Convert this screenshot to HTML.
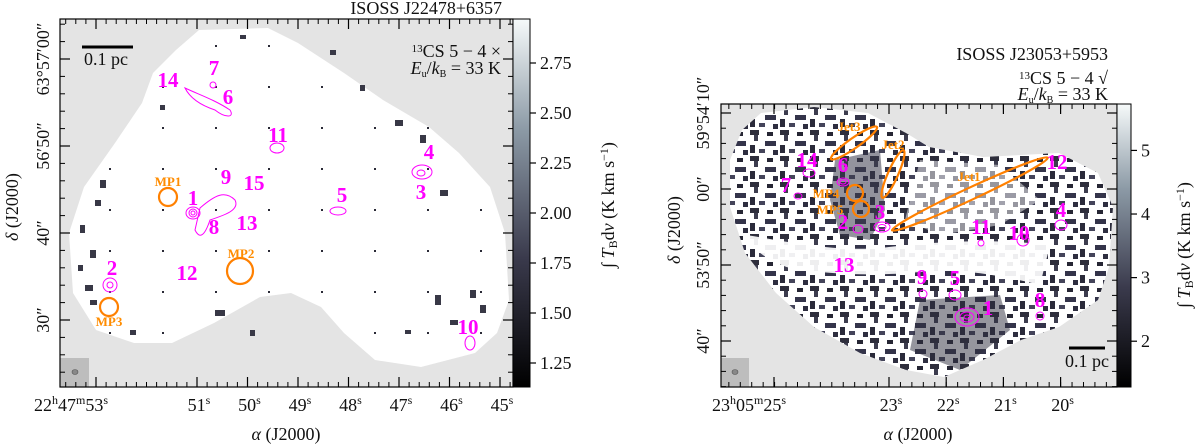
<!DOCTYPE html>
<html><head><meta charset="utf-8"><style>
html,body{margin:0;padding:0;background:#fff;width:1200px;height:448px;overflow:hidden}
svg{display:block}
text{font-family:"Liberation Serif",serif}
.tk{font-size:18px;fill:#111}
.mg{fill:#ff00ff;font-weight:bold;font-size:21px}
.or{fill:#ff8c00;font-size:13px;font-weight:bold}
</style></head><body>
<svg id="fig" width="1200" height="448" viewBox="0 0 1200 448" xmlns="http://www.w3.org/2000/svg">
<defs>
<linearGradient id="cb" x1="0" y1="1" x2="0" y2="0">
<stop offset="0" stop-color="#000"/><stop offset="0.35" stop-color="#3a3a4c"/><stop offset="0.7" stop-color="#8c9aa6"/><stop offset="1" stop-color="#f6fafa"/></linearGradient>
<pattern id="noiseR" width="30" height="26" patternUnits="userSpaceOnUse">
<rect width="30" height="26" fill="#fff"/>
<rect x="0" y="0" width="9" height="5" fill="#2e2e3c"/><rect x="4" y="5" width="4" height="6" fill="#3c3c4e"/>
<rect x="17" y="2" width="6" height="4" fill="#262634"/><rect x="15" y="11" width="11" height="5" fill="#34344a"/>
<rect x="0" y="15" width="5" height="8" fill="#2a2a3a"/><rect x="9" y="19" width="6" height="4" fill="#44445a"/>
<rect x="23" y="20" width="5" height="5" fill="#2e2e40"/>
</pattern>
<pattern id="noiseL" width="53" height="41" patternUnits="userSpaceOnUse">
<rect width="53" height="41" fill="#fff"/>
<rect x="3" y="4" width="2" height="2" fill="#2a2a36"/>
</pattern>
<clipPath id="clipL"><rect x="60" y="19" width="453" height="368"/></clipPath>
<clipPath id="clipR"><rect x="721" y="104" width="396" height="283"/></clipPath>
</defs>

<!-- LEFT PANEL -->
<g clip-path="url(#clipL)">
<rect x="60" y="19" width="453" height="368" fill="#e4e4e4"/>
<polygon fill="url(#noiseL)" points="199,30 268,28 298,43 344,73 383,100 429,127 459,153 490,187 505,233 509,300 497,333 475,353 421,367 375,360 344,333 321,307 291,293 260,297 214,323 172,343 134,343 96,330 73,293 69,233 84,187 115,143 142,103 153,73 176,50"/>
<g fill="#383846">
<rect x="395" y="120" width="8" height="6"/><rect x="420" y="135" width="6" height="8"/><rect x="440" y="190" width="8" height="6"/><rect x="435" y="295" width="6" height="10"/><rect x="480" y="305" width="6" height="8"/><rect x="90" y="250" width="6" height="8"/><rect x="95" y="200" width="6" height="6"/><rect x="85" y="285" width="8" height="6"/><rect x="215" y="310" width="10" height="6"/><rect x="405" y="330" width="6" height="4"/><rect x="160" y="105" width="5" height="5"/><rect x="80" y="225" width="5" height="8"/>
<rect x="100" y="180" width="6" height="8"/><rect x="78" y="265" width="5" height="6"/><rect x="90" y="300" width="7" height="5"/><rect x="130" y="330" width="6" height="5"/><rect x="450" y="320" width="8" height="5"/><rect x="470" y="290" width="6" height="8"/><rect x="330" y="50" width="6" height="5"/><rect x="360" y="85" width="5" height="6"/><rect x="240" y="35" width="6" height="4"/><rect x="250" y="330" width="5" height="6"/>
</g>
<g fill="none" stroke="#ff00ff" stroke-width="1">
<ellipse cx="193" cy="213" rx="7" ry="6"/><ellipse cx="193" cy="213" rx="4" ry="4"/><ellipse cx="193" cy="213" rx="2" ry="2"/>
<path d="M200,208 C215,195 225,190 235,200 C240,210 225,215 210,220 C205,235 200,240 195,230Z"/>
<path d="M185,88 C200,95 215,100 230,110 C235,118 225,118 215,110 C200,105 190,98 185,88Z"/>
<ellipse cx="213" cy="85" rx="3" ry="3"/><ellipse cx="338" cy="211" rx="8" ry="4"/>
<ellipse cx="422" cy="172" rx="10" ry="7"/><ellipse cx="421" cy="173" rx="4" ry="3"/>
<ellipse cx="110" cy="285" rx="7" ry="7"/><ellipse cx="110" cy="285" rx="3" ry="3"/>
<ellipse cx="277" cy="148" rx="7" ry="5"/><ellipse cx="470" cy="343" rx="5" ry="7"/>
</g>
<rect x="60" y="358" width="29" height="29" fill="#bdbdbd"/>
<ellipse cx="75" cy="372" rx="3" ry="2.5" fill="#888" stroke="#555" stroke-width="0.6"/>
</g>
<rect x="60" y="19" width="453" height="368" fill="none" stroke="#000" stroke-width="1.2"/>
<line x1="82" y1="47" x2="133" y2="47" stroke="#000" stroke-width="3"/>
<text x="84" y="65" class="tk" font-size="17">0.1 pc</text>
<text x="501" y="57" class="tk" text-anchor="end" font-size="15"><tspan font-size="11" dy="-5">13</tspan><tspan dy="5">CS 5 − 4 ×</tspan></text>
<text x="501" y="74" class="tk" text-anchor="end" font-size="15"><tspan font-style="italic">E</tspan><tspan font-size="10" dy="3">u</tspan><tspan dy="-3">/</tspan><tspan font-style="italic">k</tspan><tspan font-size="10" dy="3">B</tspan><tspan dy="-3"> = 33 K</tspan></text>
<text x="502" y="14" class="tk" text-anchor="end" font-size="14">ISOSS J22478+6357</text>
<rect x="513" y="19" width="17" height="368" fill="url(#cb)" stroke="#000" stroke-width="1"/>
<g id="leftCbTicks"></g>
<text transform="translate(614,205) rotate(-90)" class="tk" text-anchor="middle" font-size="18">∫ <tspan font-style="italic">T</tspan><tspan font-size="12" dy="3">B</tspan><tspan dy="-3">d</tspan><tspan font-style="italic">v</tspan> (K km s<tspan font-size="12" dy="-6">−1</tspan><tspan dy="6">)</tspan></text>
<g id="leftXTicks"></g><g id="leftYTicks"></g>
<text x="286" y="440" class="tk" text-anchor="middle"><tspan font-style="italic">α</tspan> (J2000)</text>
<text transform="translate(18,207) rotate(-90)" class="tk" text-anchor="middle"><tspan font-style="italic">δ</tspan> (J2000)</text>
<g id="leftLabels"></g>
<g fill="none" stroke="#ff8000" stroke-width="2.2">
<circle cx="168" cy="197" r="9"/>
<circle cx="240" cy="271" r="13"/>
<circle cx="109" cy="307" r="9"/>
</g>
<text x="168" y="186" class="or" text-anchor="middle">MP1</text>
<text x="241" y="258" class="or" text-anchor="middle">MP2</text>
<text x="109" y="326" class="or" text-anchor="middle">MP3</text>

<!-- RIGHT PANEL -->
<g clip-path="url(#clipR)">
<rect x="721" y="104" width="396" height="283" fill="#e4e4e4"/>
<polygon fill="url(#noiseR)" points="761,113 814,107 868,113 906,133 929,147 983,157 1059,153 1098,173 1113,207 1109,267 1098,300 1059,327 1021,340 983,360 944,377 906,370 860,353 814,327 776,293 745,253 730,207 730,160 742,130"/>
<path d="M746,235 C780,240 830,252 880,248 C930,242 990,238 1050,245 L1040,285 C1000,275 960,268 920,272 C880,276 830,275 790,268 C770,262 752,250 746,235Z" fill="#fff" opacity="0.92"/>
<path d="M920,160 L1000,165 L1040,200 L1000,225 L940,235 L905,220Z" fill="#fff" opacity="0.5"/>
<path d="M835,160 L880,150 L885,210 L870,240 L840,235 L830,200Z" fill="#3a3a4c" opacity="0.55"/>
<path d="M920,300 L1000,295 L1010,330 L960,370 L910,350Z" fill="#2e2e3e" opacity="0.5"/>
<g fill="none" stroke="#ff00ff" stroke-width="1">
<ellipse cx="843" cy="182" rx="6" ry="4"/><ellipse cx="843" cy="182" rx="3" ry="2"/>
<ellipse cx="882" cy="227" rx="8" ry="5"/><ellipse cx="882" cy="227" rx="4" ry="2.5"/>
<ellipse cx="858" cy="229" rx="5" ry="4"/>
<ellipse cx="967" cy="317" rx="12" ry="9"/><ellipse cx="967" cy="317" rx="7" ry="5"/><ellipse cx="967" cy="317" rx="3" ry="2"/>
<ellipse cx="955" cy="295" rx="6" ry="5"/><ellipse cx="923" cy="294" rx="4" ry="4"/>
<ellipse cx="1061" cy="225" rx="6" ry="5"/><ellipse cx="1040" cy="316" rx="4" ry="4"/>
<ellipse cx="981" cy="243" rx="3" ry="3"/><ellipse cx="1023" cy="240" rx="6" ry="6"/>
<ellipse cx="798" cy="196" rx="4" ry="3"/><ellipse cx="809" cy="173" rx="6" ry="4"/>
</g>
<rect x="721" y="358" width="28" height="29" fill="#bdbdbd"/>
<ellipse cx="735" cy="372" rx="3" ry="2.5" fill="#888" stroke="#555" stroke-width="0.6"/>
</g>
<rect x="721" y="104" width="396" height="283" fill="none" stroke="#000" stroke-width="1.2"/>
<line x1="1069" y1="348" x2="1105" y2="348" stroke="#000" stroke-width="3"/>
<text x="1087" y="367" class="tk" text-anchor="middle" font-size="17">0.1 pc</text>
<text x="1108" y="60" class="tk" text-anchor="end" font-size="14">ISOSS J23053+5953</text>
<text x="1108" y="84" class="tk" text-anchor="end" font-size="15"><tspan font-size="11" dy="-5">13</tspan><tspan dy="5">CS 5 − 4 √</tspan></text>
<text x="1108" y="100" class="tk" text-anchor="end" font-size="15"><tspan font-style="italic">E</tspan><tspan font-size="10" dy="3">u</tspan><tspan dy="-3">/</tspan><tspan font-style="italic">k</tspan><tspan font-size="10" dy="3">B</tspan><tspan dy="-3"> = 33 K</tspan></text>
<rect x="1117" y="104" width="14" height="283" fill="url(#cb)" stroke="#000" stroke-width="1"/>
<g id="rightCbTicks"></g>
<text transform="translate(1190,245) rotate(-90)" class="tk" text-anchor="middle" font-size="18">∫ <tspan font-style="italic">T</tspan><tspan font-size="12" dy="3">B</tspan><tspan dy="-3">d</tspan><tspan font-style="italic">v</tspan> (K km s<tspan font-size="12" dy="-6">−1</tspan><tspan dy="6">)</tspan></text>
<g id="rightXTicks"></g><g id="rightYTicks"></g>
<text x="918" y="440" class="tk" text-anchor="middle"><tspan font-style="italic">α</tspan> (J2000)</text>
<text transform="translate(680,230) rotate(-90)" class="tk" text-anchor="middle"><tspan font-style="italic">δ</tspan> (J2000)</text>
<g fill="none" stroke="#ff8000" stroke-width="2.2">
<ellipse cx="854" cy="143" rx="28" ry="5" transform="rotate(-35 854 143)"/>
<ellipse cx="893" cy="174" rx="26" ry="5" transform="rotate(-66 893 174)"/>
<ellipse cx="970" cy="194" rx="86" ry="6" transform="rotate(-25 970 194)"/>
<circle cx="855" cy="193" r="8"/>
<circle cx="861" cy="209" r="8"/>
</g>
<text x="849" y="131" class="or" text-anchor="middle">Jet3</text>
<text x="893" y="149" class="or" text-anchor="middle">Jet2</text>
<text x="969" y="181" class="or" text-anchor="middle">Jet1</text>
<text x="826" y="198" class="or" text-anchor="middle">MP4</text>
<text x="830" y="214" class="or" text-anchor="middle">MP5</text>
<g id="rightLabels"></g>
</svg>
<script>
const NS="http://www.w3.org/2000/svg";
const leftCbValues=[1.25,1.5,1.75,2.0,2.25,2.5,2.75];
const leftCbLabels=["1.25","1.50","1.75","2.00","2.25","2.50","2.75"];
const leftCbRange=[1.13,2.97];
const rightCbValues=[2,3,4,5];
const rightCbLabels=["2","3","4","5"];
const rightCbRange=[1.28,5.73];
const leftXLabels=["22h47m53s","51s","50s","49s","48s","47s","46s","45s"];
const leftXSeconds=[53,51,50,49,48,47,46,45];
const leftYLabels=["63°57′00″","56′50″","40″","30″"];
const leftYArcsec=[60,50,40,30];
const rightXLabels=["23h05m25s","23s","22s","21s","20s"];
const rightXSeconds=[25,23,22,21,20];
const rightYLabels=["59°54′10″","00″","53′50″","40″"];
const rightYArcsec=[70,60,50,40];
const leftSrcNames=["14","7","6","11","4","3","9","15","1","5","13","8","12","2","10"];
const leftSrcX=[168,214,228,278,429,421,226,254,193,342,247,214,187,112,468];
const leftSrcY=[80,68,97,135,152,192,177,183,198,195,223,227,273,268,327];
const rightSrcNames=["12","14","6","7","3","2","4","11","10","13","9","5","1","8"];
const rightSrcX=[1057,807,843,786,880,843,1061,981,1019,844,922,955,988,1040];
const rightSrcY=[162,160,165,185,212,222,210,227,233,265,277,278,308,300];

function el(tag,attrs,parent){const e=document.createElementNS(NS,tag);for(const k in attrs)e.setAttribute(k,attrs[k]);parent.appendChild(e);return e;}
function ts(parent,txt,attrs){const t=el("tspan",attrs||{},parent);t.textContent=txt;return t;}
function cbScale(v,range,y0,y1){return y1-(v-range[0])/(range[1]-range[0])*(y1-y0);}
function drawCb(gid,vals,labels,range,x0,x1,y0,y1){
 const g=document.getElementById(gid);
 vals.forEach((v,i)=>{const y=cbScale(v,range,y0,y1);
  const l=el("line",{x1:x1,x2:x1+6,y1:y,y2:y,stroke:"#000","stroke-width":1.2},g);
  
  
  const t=el("text",{x:x1+10,y:y+6,class:"tk"},g);t.textContent=labels[i];
  
  
 });
}
drawCb("leftCbTicks",leftCbValues,leftCbLabels,leftCbRange,513,530,19,387);
drawCb("rightCbTicks",rightCbValues,rightCbLabels,rightCbRange,1117,1131,104,387);

function fillLabel(t,s){
 const m=s.match(/^(\d+)h(\d+)m(\d+)s$/);
 const sup={"font-size":"12",dy:"-7"}, back={dy:"7"};
 if(m){ts(t,m[1]);ts(t,"h",sup);ts(t,m[2],back);ts(t,"m",sup);ts(t,m[3],back);ts(t,"s",sup);}
 else{ts(t,s.replace('s',''));ts(t,"s",sup);}
}
function drawX(gid,secs,labels,xOf,yb,ytop,minorStep,xmin,xmax){
 const g=document.getElementById(gid);
 const x0=xOf(secs[1]), x1=xOf(secs[2]); const d=(x1-x0)/minorStep;
 for(let x=x0-Math.floor((x0-xmin)/d)*d; x<xmax; x+=d){
  el("line",{x1:x,x2:x,y1:yb,y2:yb-5,stroke:"#000","stroke-width":1},g);
  el("line",{x1:x,x2:x,y1:ytop,y2:ytop+5,stroke:"#000","stroke-width":1},g);
 }
 secs.forEach((s,i)=>{const x=xOf(s);
  const a=el("line",{x1:x,x2:x,y1:yb,y2:yb-10,stroke:"#000","stroke-width":1.2},g);
  
  
  el("line",{x1:x,x2:x,y1:ytop,y2:ytop+10,stroke:"#000","stroke-width":1.2},g);
  const isH=labels[i].includes('h');
  const t=el("text",{x:isH?x+12:x+2,y:yb+24,class:"tk","text-anchor":isH?"end":"middle"},g);
  fillLabel(t,labels[i]);
  
  
 });
}
drawX("leftXTicks",leftXSeconds,leftXLabels,s=>s>=52?96+(53-s)*50.5:197+(51-s)*50.5,387,19,5,60,513);
drawX("rightXTicks",rightXSeconds,rightXLabels,s=>s>=24?774+(25-s)*57.2:889+(23-s)*57.2,387,104,5,721,1117);

function drawY(gid,arcs,labels,yOf,xl,xr,lx,ymin,ymax){
 const g=document.getElementById(gid);
 const d=(yOf(arcs[1])-yOf(arcs[0]))/5;
 for(let y=yOf(arcs[0])-Math.floor((yOf(arcs[0])-ymin)/d)*d; y<ymax; y+=d){
  el("line",{x1:xl,x2:xl+5,y1:y,y2:y,stroke:"#000","stroke-width":1},g);
  el("line",{x1:xr,x2:xr-5,y1:y,y2:y,stroke:"#000","stroke-width":1},g);
 }
 arcs.forEach((a,i)=>{const y=yOf(a);
  const l=el("line",{x1:xl,x2:xl+10,y1:y,y2:y,stroke:"#000","stroke-width":1.2},g);
  
  
  el("line",{x1:xr,x2:xr-10,y1:y,y2:y,stroke:"#000","stroke-width":1.2},g);
  const t=el("text",{transform:"translate("+lx+","+y+") rotate(-90)",class:"tk","text-anchor":"middle"},g);
  t.textContent=labels[i];
  
  
 });
}
drawY("leftYTicks",leftYArcsec,leftYLabels,a=>59+(60-a)*8.7,60,513,49,19,387);
drawY("rightYTicks",rightYArcsec,rightYLabels,a=>113+(70-a)*7.6,721,1117,709,104,387);

function drawLabels(gid,names,xs,ys){
 const g=document.getElementById(gid);
 names.forEach((n,i)=>{const t=el("text",{x:xs[i],y:ys[i]+7,class:"mg","text-anchor":"middle"},g);
  t.textContent=n;
  
  
 });
}
drawLabels("leftLabels",leftSrcNames,leftSrcX,leftSrcY);
drawLabels("rightLabels",rightSrcNames,rightSrcX,rightSrcY);
</script>
</body></html>
